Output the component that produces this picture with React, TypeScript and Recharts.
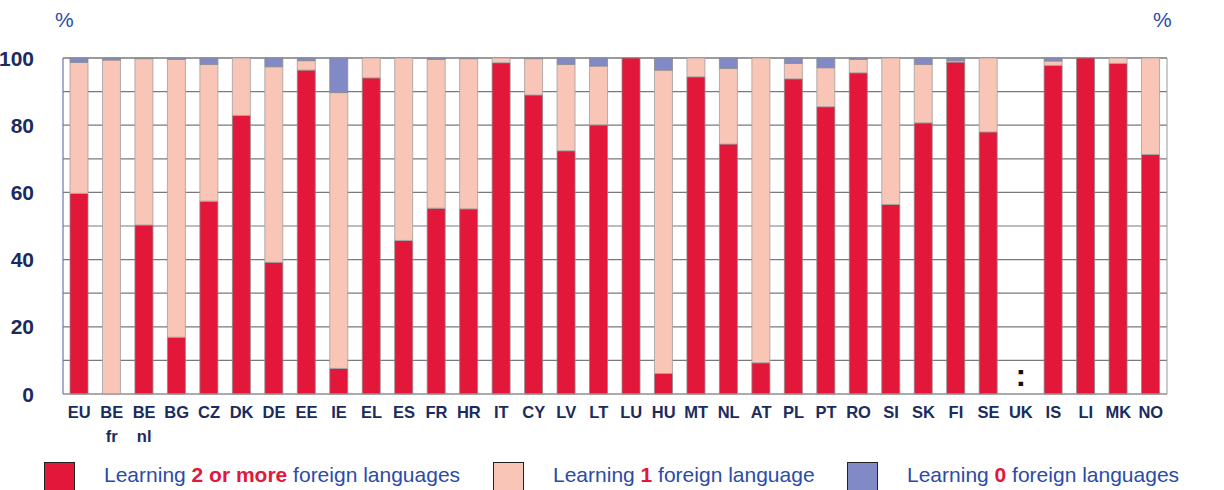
import { BarChart, Bar, XAxis, YAxis, CartesianGrid } from 'recharts';

const countries = ['EU', 'BE\nfr', 'BE\nnl', 'BG', 'CZ', 'DK', 'DE', 'EE', 'IE', 'EL', 'ES', 'FR', 'HR', 'IT', 'CY', 'LV', 'LT', 'LU', 'HU', 'MT', 'NL', 'AT', 'PL', 'PT', 'RO', 'SI', 'SK', 'FI', 'SE', 'UK', 'IS', 'LI', 'MK', 'NO'];
const twoOrMore = [59.7, 0, 50.3, 16.9, 57.4, 82.9, 39.2, 96.4, 7.6, 94.1, 45.7, 55.3, 55.1, 98.6, 89.0, 72.4, 80.1, 100, 6.1, 94.4, 74.4, 9.3, 93.8, 85.5, 95.6, 56.4, 80.7, 98.8, 78.0, null, 97.8, 100, 98.4, 71.3];
const one = [39.0, 99.4, 49.5, 82.7, 40.7, 17.1, 58.2, 2.8, 82.1, 5.9, 54.3, 44.3, 44.7, 1.4, 10.8, 25.7, 17.5, 0, 90.3, 5.6, 22.5, 90.7, 4.6, 11.6, 4.0, 43.6, 17.4, 0.4, 22.0, null, 1.3, 0, 1.6, 28.7];
const zero = [1.3, 0.6, 0.2, 0.4, 1.9, 0, 2.6, 0.8, 10.3, 0, 0, 0.4, 0.2, 0, 0.2, 1.9, 2.4, 0, 3.6, 0, 3.1, 0, 1.6, 2.9, 0.4, 0, 1.9, 0.8, 0, null, 0.9, 0, 0, 0];
const notAvailable = ['UK'];
const yTicks = [0, 10, 20, 30, 40, 50, 60, 70, 80, 90, 100];

const RED = '#E3173A';
const PINK = '#F8C5B6';
const BLUE = '#8289C7';
const NAVY = '#1C2B5E';
const TEXT_BLUE = '#2B4BA8';
const NARROW = '"Liberation Sans Narrow", "Liberation Sans", Arial, sans-serif';

const data = countries.map((c, i) => ({
  country: c,
  two: twoOrMore[i],
  one: one[i],
  zero: zero[i],
}));

const legendItems = [
  { color: RED, pre: 'Learning ', hi: '2 or more', post: ' foreign languages', x: 44 },
  { color: PINK, pre: 'Learning ', hi: '1', post: ' foreign language', x: 493 },
  { color: BLUE, pre: 'Learning ', hi: '0', post: ' foreign languages', x: 847 },
];

function LeftTick(props: any) {
  const { x, y, payload } = props;
  if (payload.value % 20 !== 0) return null;
  return (
    <text x={x - 21} y={y} dy="0.36em" textAnchor="end" fill={NAVY} fontFamily={NARROW} fontWeight="bold" fontSize={21}>
      {payload.value}
    </text>
  );
}

function RightTick(props: any) {
  const { x, y, payload } = props;
  if (payload.value % 20 !== 0) return null;
  return (
    <text x={x + 20} y={y} dy="0.36em" textAnchor="start" fill={NAVY} fontFamily={NARROW} fontWeight="bold" fontSize={21}>
      {payload.value}
    </text>
  );
}

function CountryTick(props: any) {
  const { x, y, payload } = props;
  const lines = String(payload.value).split('\n');
  return (
    <g>
      {notAvailable.includes(payload.value) && (
        <text x={x} y={y - 8} textAnchor="middle" fill="#111" fontFamily="'Liberation Sans', Arial, sans-serif" fontWeight="bold" fontSize={32}>
          :
        </text>
      )}
      {lines.map((l, i) => (
        <text key={i} x={x} y={y + 24 + i * 24} textAnchor="middle" fill={NAVY} fontFamily={NARROW} fontWeight="bold" fontSize={16.5}>
          {l}
        </text>
      ))}
    </g>
  );
}

export default function App() {
  return (
    <div style={{ position: 'absolute', left: 0, top: 0, width: 1224, height: 490, background: '#fff', overflow: 'hidden', fontFamily: '"Liberation Sans", Arial, sans-serif' }}>
      <div style={{ position: 'absolute', left: 55, top: 8, fontSize: 21, color: TEXT_BLUE }}>%</div>
      <div style={{ position: 'absolute', left: 1153, top: 8, fontSize: 21, color: TEXT_BLUE }}>%</div>
      <BarChart width={1224} height={490} data={data} barSize={18} margin={{ top: 58, right: 0, bottom: 0, left: 0 }}>
        <CartesianGrid yAxisId="left" vertical={false} stroke="#7a7a7a" strokeWidth={1.2} />
        <XAxis dataKey="country" height={96} tickLine={false} tickSize={0} tickMargin={0} interval={0} axisLine={{ stroke: '#9a9a9a' }} tick={<CountryTick />} />
        <YAxis yAxisId="left" width={63} domain={[0, 100]} ticks={yTicks} tickLine={false} axisLine={{ stroke: '#6878b4', strokeWidth: 1.2 }} tick={<LeftTick />} />
        <YAxis yAxisId="right" orientation="right" width={57} domain={[0, 100]} ticks={yTicks} tickLine={false} axisLine={{ stroke: '#9a9a9a' }} tick={<RightTick />} />
        <Bar yAxisId="left" dataKey="two" stackId="a" fill={RED} stroke="#8a8a8a" strokeWidth={0.8} isAnimationActive={false} />
        <Bar yAxisId="left" dataKey="one" stackId="a" fill={PINK} stroke="#a0a0a0" strokeWidth={0.8} isAnimationActive={false} />
        <Bar yAxisId="left" dataKey="zero" stackId="a" fill={BLUE} stroke="#8a8a8a" strokeWidth={0.8} isAnimationActive={false} />
      </BarChart>
      {legendItems.map((it) => (
        <div key={it.hi} style={{ position: 'absolute', left: it.x, top: 462, display: 'flex', alignItems: 'flex-start', whiteSpace: 'nowrap' }}>
          <div style={{ width: 31, height: 32, background: it.color, border: '1px solid #222', boxSizing: 'border-box' }} />
          <span style={{ marginLeft: 29, marginTop: 1, fontSize: 21, color: TEXT_BLUE }}>
            {it.pre}
            <b style={{ color: RED }}>{it.hi}</b>
            {it.post}
          </span>
        </div>
      ))}
    </div>
  );
}
